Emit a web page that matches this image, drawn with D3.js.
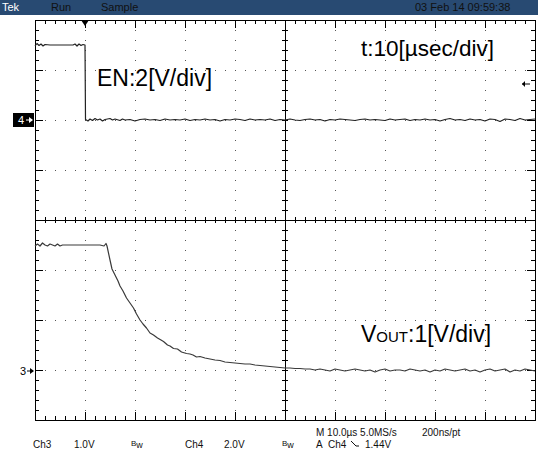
<!DOCTYPE html>
<html>
<head>
<meta charset="utf-8">
<script src="https://cdn.jsdelivr.net/npm/d3@7"></script>
<style>
  body { margin: 0; background: #fff; }
  svg { display: block; }
  .narrow { font-family: "Liberation Sans Narrow", "Arial Narrow", "Liberation Sans", sans-serif; }
  .big { font-family: "Liberation Sans", Arial, sans-serif; }
</style>
</head>
<body>
<svg id="scope" width="538" height="455"></svg>
<script>
// readings off the screen: [time in µs after trigger, volts]
const ch4Trace = [
  [-10, 2.96], [-9.6, 3.06], [-9.2, 2.98], [-8.8, 3.04], [-8.4, 2.96], [-8, 3.02], [-7, 3.0], [-6, 3.0],
  [-5, 3.0], [-4, 3.0], [-3, 3.0], [-2.4, 3.0], [-2, 3.04], [-1.6, 2.96], [-1.2, 3.04], [-0.8, 2.98],
  [-0.4, 3.02], [0, 3.0], [0.1, 0.02], [0.6, -0.04], [1, 0.04], [1.5, -0.02], [2, 0.06], [2.5, 0],
  [3, 0.04], [3.5, -0.04], [4, 0.02], [5, 0.06], [5.5, 0], [6, 0.04], [7, -0.02], [7.5, 0.04], [8, 0],
  [9, 0.02], [10, -0.04], [11, 0.02], [12, 0.04], [13, 0], [14, 0.02], [15, -0.02], [16, 0.04], [17, 0],
  [18, 0.02], [19, 0], [20, 0.04], [21, -0.02], [22, 0.02], [23, 0], [24, 0.04], [25, 0], [26, 0.02],
  [27, -0.04], [28, 0.02], [29, 0], [30, 0.04], [31, 0.02], [32, -0.02], [33, 0.04], [34, 0], [35, 0.02],
  [36, 0], [37, 0.04], [38, -0.02], [39, 0.02], [40, 0], [41, 0.04], [42, 0], [43, -0.02], [44, 0.02],
  [45, 0.04], [46, 0], [47, 0.02], [48, -0.04], [49, 0.02], [50, 0], [51, 0.04], [52, 0.02], [53, 0],
  [54, -0.02], [55, 0.02], [56, 0.04], [57, 0], [58, 0.02], [59, 0], [60, -0.02], [61, 0.04], [62, 0],
  [63, 0.02], [64, 0.04], [65, -0.02], [66, 0.02], [67, 0], [68, 0.04], [69, 0], [70, 0.02], [71, -0.04],
  [72, 0.02], [73, 0.06], [74, 0], [75, 0.02], [76, -0.02], [77, 0.04], [78, 0], [79, 0.02], [80, -0.04],
  [81, 0.04], [82, 0.02], [83, -0.06], [84, 0.04], [85, 0.02], [86, -0.02], [87, 0.06], [88, 0],
  [89, 0.02], [90, 0.04]
];

const ch3Trace = [
  [-10, 2.50], [-9.5, 2.54], [-9, 2.50], [-8.5, 2.56], [-8, 2.52], [-7.5, 2.50], [-7, 2.54], [-6.5, 2.52],
  [-6, 2.50], [-5.5, 2.54], [-5, 2.50], [-4.5, 2.52], [-4, 2.52], [-3, 2.52], [-2, 2.52], [-1, 2.52],
  [0, 2.52], [1, 2.52], [2, 2.52], [3, 2.52], [3.8, 2.50], [4.2, 2.55], [4.4, 2.50], [5, 2.22],
  [5.4, 2.04], [6, 1.92], [6.6, 1.80], [7, 1.70], [7.6, 1.60], [8.3, 1.46], [9, 1.36], [9.7, 1.26],
  [10.3, 1.14], [11, 1.02], [11.6, 0.94], [12.3, 0.86], [13, 0.76], [13.7, 0.72], [14.5, 0.66],
  [15.2, 0.62], [15.7, 0.59], [16.5, 0.52], [17, 0.50], [17.7, 0.45], [18.5, 0.44], [19.3, 0.38],
  [20.3, 0.35], [21, 0.34], [21.6, 0.32], [22.3, 0.28], [23, 0.29], [24, 0.26], [25, 0.24], [26, 0.22],
  [27, 0.21], [28, 0.18], [29, 0.17], [30, 0.16], [31, 0.15], [32, 0.14], [33, 0.14], [34, 0.12],
  [35, 0.11], [36, 0.10], [37, 0.09], [38, 0.08], [39, 0.07], [40, 0.06], [41, 0.06], [42, 0.05],
  [43, 0.05], [44, 0.04], [45, 0.04], [46, 0.02], [47, 0.04], [48, 0.02], [49, 0.0], [50, 0.04],
  [51, 0.02], [52, 0.0], [53, 0.02], [54, 0.04], [55, 0.02], [56, 0.0], [57, 0.02], [58, -0.02],
  [59, 0.02], [60, 0.04], [61, 0.0], [62, 0.02], [63, 0.02], [64, 0.0], [65, 0.04], [66, 0.02],
  [67, 0.0], [68, 0.02], [69, -0.02], [70, 0.02], [71, 0.0], [72, 0.04], [73, 0.02], [74, 0.0],
  [75, 0.02], [76, 0.04], [77, 0.0], [78, 0.02], [79, -0.02], [80, 0.02], [81, 0.04], [82, 0.0],
  [83, 0.02], [84, 0.04], [85, -0.02], [86, 0.02], [87, 0.0], [88, 0.04], [89, 0.02], [90, 0.0]
];

// channel setup: volts per division and ground position in divisions from centre
const channels = [
  { id: 4, trace: ch4Trace, vPerDiv: 2, groundDiv: 2 },
  { id: 3, trace: ch3Trace, vPerDiv: 1, groundDiv: -3.02 }
];

const timeRange = [-10, 90];   // µs across 10 divisions
const triggerLevel = 1.44;     // V on Ch4

const headerLabels = ["Tek", "Run", "Sample", "03 Feb 14 09:59:38"];
const statusTop = ["M 10.0\u00b5s 5.0MS/s", "200ns/pt"];
const statusBottom = ["Ch3", "1.0V", "Ch4", "2.0V", "A", "Ch4", "1.44V"];

const svg = d3.select("#scope");
const W = 538;
const gLeft = 35, gRight = 535, gTop = 20, gBottom = 420;

const x = d3.scaleLinear().domain(timeRange).range([gLeft, gRight]);
const yDiv = d3.scaleLinear().domain([-4, 4]).range([gBottom, gTop]);
const xDiv = d3.scaleLinear().domain([0, 10]).range([gLeft, gRight]);

// header bar
svg.append("rect").attr("x", 0).attr("y", 0).attr("width", W).attr("height", 15).attr("fill", "#284a72");
const head = svg.append("g").attr("class", "narrow").attr("font-size", 11);
head.append("text").attr("x", 2).attr("y", 11).attr("fill", "#fff").text(headerLabels[0]);
head.append("text").attr("x", 51).attr("y", 11).attr("fill", "#111").text(headerLabels[1]);
head.append("text").attr("x", 101).attr("y", 11).attr("fill", "#111").text(headerLabels[2]);
head.append("text").attr("x", 415).attr("y", 11).attr("fill", "#111").text(headerLabels[3]);

// graticule
const grat = svg.append("g").attr("shape-rendering", "crispEdges");
const dots = [];
d3.range(1, 10).filter(i => i !== 5).forEach(i => {
  d3.range(gTop + 10, gBottom, 10).forEach(py => dots.push([xDiv(i), py]));
});
d3.range(-3, 4).filter(i => i !== 0).forEach(i => {
  d3.range(gLeft + 10, gRight, 10).forEach(px => dots.push([px, yDiv(i)]));
});
grat.selectAll("rect.dot").data(dots).join("rect")
  .attr("class", "dot")
  .attr("x", d => d[0]).attr("y", d => d[1])
  .attr("width", 1).attr("height", 1).attr("fill", "#555");

grat.append("rect")
  .attr("x", gLeft).attr("y", gTop).attr("width", gRight - gLeft).attr("height", gBottom - gTop)
  .attr("fill", "none").attr("stroke", "#000");

// centre axes
grat.append("line").attr("x1", gLeft).attr("x2", gRight).attr("y1", yDiv(0)).attr("y2", yDiv(0)).attr("stroke", "#000");
grat.append("line").attr("x1", xDiv(5)).attr("x2", xDiv(5)).attr("y1", gTop).attr("y2", gBottom).attr("stroke", "#000");

const ticks = [];
d3.range(gLeft + 10, gRight, 10).forEach(px => {
  const major = (px - gLeft) % 50 === 0;
  ticks.push([px, gTop, px, gTop + (major ? 8 : 4)]);
  ticks.push([px, gBottom, px, gBottom - (major ? 8 : 4)]);
  ticks.push([px, yDiv(0) - 3, px, yDiv(0) + 3]);
});
d3.range(gTop + 10, gBottom, 10).forEach(py => {
  const major = (py - gTop) % 50 === 0;
  ticks.push([gLeft, py, gLeft + (major ? 8 : 4), py]);
  ticks.push([gRight, py, gRight - (major ? 8 : 4), py]);
  ticks.push([xDiv(5) - 3, py, xDiv(5) + 3, py]);
});
grat.selectAll("line.tick").data(ticks).join("line")
  .attr("class", "tick")
  .attr("x1", d => d[0]).attr("y1", d => d[1]).attr("x2", d => d[2]).attr("y2", d => d[3])
  .attr("stroke", "#000");

// traces
channels.forEach(ch => {
  const y = v => yDiv(ch.groundDiv + v / ch.vPerDiv);
  const line = d3.line().x(d => x(d[0])).y(d => y(d[1]));
  svg.append("path").datum(ch.trace)
    .attr("d", line)
    .attr("fill", "none")
    .attr("stroke", ch.id === 4 ? "#222" : "#3a3a3a")
    .attr("stroke-width", 1.2)
    .attr("stroke-linejoin", "round");
});

// trigger position marker
const tx = x(0);
svg.append("path").attr("d", `M${tx - 4},${gTop} L${tx + 4},${gTop} L${tx},${gTop + 6} Z`).attr("fill", "#000");

// trigger level marker on the right
const ch4 = channels[0];
const ty = yDiv(ch4.groundDiv + triggerLevel / ch4.vPerDiv);
svg.append("path").attr("d", `M${gRight - 13},${ty} L${gRight - 5},${ty}`).attr("stroke", "#000").attr("stroke-width", 1);
svg.append("path").attr("d", `M${gRight - 13},${ty} L${gRight - 10},${ty - 3} L${gRight - 10},${ty + 3} Z`).attr("fill", "#000");

// channel ground markers
const g4 = yDiv(channels[0].groundDiv);
svg.append("rect").attr("x", 13).attr("y", g4 - 7).attr("width", 21).attr("height", 14).attr("fill", "#000");
svg.append("text").attr("class", "narrow").attr("x", 18).attr("y", g4 + 4).attr("font-size", 11).attr("fill", "#fff").text("4");
svg.append("path").attr("d", `M26,${g4} L32,${g4}`).attr("stroke", "#fff");
svg.append("path").attr("d", `M33,${g4} L29,${g4 - 3} L29,${g4 + 3} Z`).attr("fill", "#fff");

const g3 = yDiv(channels[1].groundDiv);
svg.append("text").attr("class", "narrow").attr("x", 20).attr("y", g3 + 4).attr("font-size", 11).attr("fill", "#000").text("3");
svg.append("path").attr("d", `M27,${g3} L33,${g3}`).attr("stroke", "#000");
svg.append("path").attr("d", `M34,${g3} L30,${g3 - 3} L30,${g3 + 3} Z`).attr("fill", "#000");

// annotations
const ann = svg.append("g").attr("class", "big").attr("fill", "#000");
ann.append("text").attr("x", 97).attr("y", 86).attr("font-size", 23).text("EN:2[V/div]");
ann.append("text").attr("x", 361).attr("y", 56).attr("font-size", 22.5).text("t:10[\u00b5sec/div]");
const vout = ann.append("text").attr("x", 361).attr("y", 342).attr("font-size", 23);
vout.append("tspan").text("V");
vout.append("tspan").attr("font-size", 15).text("OUT");
vout.append("tspan").text(":1[V/div]");

// status readout
const st = svg.append("g").attr("class", "narrow").attr("font-size", 10).attr("fill", "#111");
st.append("text").attr("x", 316).attr("y", 436).text(statusTop[0]);
st.append("text").attr("x", 422).attr("y", 436).text(statusTop[1]);
const row2 = [[33, statusBottom[0]], [74, statusBottom[1]], [185, statusBottom[2]], [224, statusBottom[3]],
  [316, statusBottom[4]], [328, statusBottom[5]], [365, statusBottom[6]]];
row2.forEach(([px, t]) => st.append("text").attr("x", px).attr("y", 448).text(t));
// bandwidth limit marks
[131, 282].forEach(px => {
  const b = st.append("text").attr("x", px).attr("y", 446).attr("font-size", 8);
  b.append("tspan").text("B");
  b.append("tspan").attr("dy", 2).attr("font-size", 9).text("w");
});
// falling slope symbol
st.append("path").attr("d", "M351,441 L356,446 L359,446").attr("fill", "none").attr("stroke", "#111");
</script>
</body>
</html>
